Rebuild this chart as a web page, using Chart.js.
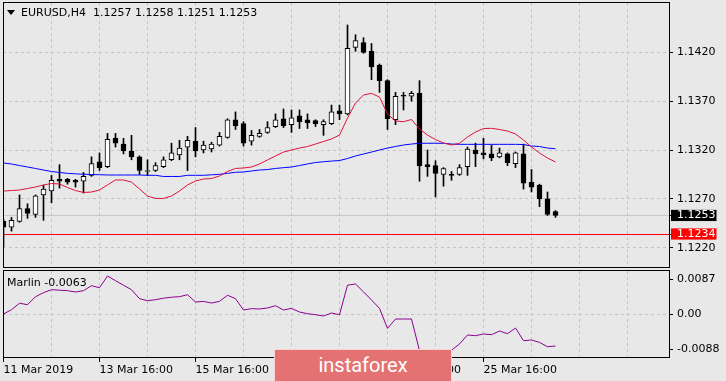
<!DOCTYPE html>
<html><head><meta charset="utf-8">
<script src="https://cdn.jsdelivr.net/npm/chart.js@4.4.1/dist/chart.umd.min.js"></script>
<style>
html,body{margin:0;padding:0;background:#e8e8e8;width:726px;height:381px;overflow:hidden;}
canvas{position:absolute;left:0;}
#c1{top:0;}
#c2{top:268px;}
.lbl{position:absolute;font:11px/13px 'DejaVu Sans';color:#000;white-space:pre;}
#tri{position:absolute;left:7px;top:10px;width:0;height:0;border-left:4px solid transparent;border-right:4px solid transparent;border-top:5px solid #000;}
#wm{position:absolute;left:274px;top:349px;width:176px;height:31px;border:1px solid rgba(255,235,235,0.8);background:#e47272;color:#fff;font:20px/30px Roboto,'DejaVu Sans';text-align:center;}
</style></head><body>
<canvas id="c1" width="726" height="270"></canvas>
<canvas id="c2" width="726" height="113"></canvas>
<div id="tri"></div>
<div class="lbl" id="title" style="left:21px;top:6px"></div>
<div class="lbl" id="ind" style="left:7px;top:276px"></div>
<div id="wm">instaforex</div>
<script>
// ---- data ----
const symbolTitle = 'EURUSD,H4';
const lastOHLC = ['1.1257', '1.1258', '1.1251', '1.1253'];
const indicatorName = 'Marlin';
const indicatorLast = '-0.0063';

const openP  = [1.1247,1.1241,1.1247,1.1260,1.1254,1.1274,1.1278,1.1290,1.1290,1.1289,
                1.1288,1.1294,1.1308,1.1303,1.1332,1.1326,1.1319,1.1313,1.1298,1.1299,
                1.1303,1.1310,1.1315,1.1323,1.1329,1.1320,1.1321,1.1325,1.1333,1.1351,
                1.1347,1.1329,1.1334,1.1338,1.1344,1.1352,1.1346,1.1355,1.1351,1.1350,
                1.1346,1.1347,1.1360,1.1357,1.1425,1.1430,1.1421,1.1407,1.1391,1.1351,
                1.1376,1.1375,1.1378,1.1305,1.1304,1.1295,1.1295,1.1295,1.1303,1.1320,
                1.1317,1.1316,1.1313,1.1316,1.1306,1.1316,1.1287,1.1284,1.1270,1.1257];
const highP  = [1.1249,1.1251,1.1274,1.1265,1.1274,1.1284,1.1294,1.1305,1.1291,1.1290,
                1.1297,1.1313,1.1317,1.1337,1.1337,1.1332,1.1335,1.1314,1.1310,1.1307,
                1.1313,1.1327,1.1330,1.1334,1.1343,1.1329,1.1328,1.1338,1.1352,1.1359,
                1.1349,1.1340,1.1341,1.1349,1.1357,1.1362,1.1361,1.1361,1.1357,1.1351,
                1.1351,1.1366,1.1366,1.1448,1.1438,1.1435,1.1429,1.1408,1.1392,1.1379,
                1.1379,1.1380,1.1391,1.1320,1.1309,1.1302,1.1298,1.1305,1.1323,1.1327,
                1.1332,1.1325,1.1322,1.1317,1.1318,1.1326,1.1300,1.1285,1.1277,1.1258];
const lowP   = [1.1221,1.1237,1.1246,1.1250,1.1251,1.1248,1.1266,1.1281,1.1285,1.1282,
                1.1276,1.1293,1.1299,1.1302,1.1323,1.1316,1.1310,1.1295,1.1294,1.1298,
                1.1302,1.1309,1.1310,1.1299,1.1313,1.1317,1.1318,1.1324,1.1332,1.1341,
                1.1324,1.1325,1.1333,1.1337,1.1343,1.1343,1.1338,1.1342,1.1342,1.1344,
                1.1335,1.1346,1.1351,1.1356,1.1421,1.1419,1.1392,1.1379,1.1341,1.1346,
                1.1361,1.1370,1.1288,1.1293,1.1272,1.1283,1.1289,1.1294,1.1294,1.1303,
                1.1311,1.1309,1.1312,1.1304,1.1302,1.1280,1.1277,1.1262,1.1253,1.1251];
const closeP = [1.1241,1.1248,1.1260,1.1255,1.1273,1.1280,1.1289,1.1288,1.1287,1.1287,
                1.1293,1.1306,1.1302,1.1331,1.1327,1.1319,1.1313,1.1299,1.1299,1.1304,
                1.1310,1.1317,1.1322,1.1330,1.1319,1.1325,1.1326,1.1334,1.1351,1.1345,
                1.1327,1.1335,1.1337,1.1343,1.1351,1.1345,1.1353,1.1349,1.1348,1.1347,
                1.1349,1.1359,1.1357,1.1424,1.1432,1.1420,1.1405,1.1391,1.1352,1.1375,
                1.1375,1.1378,1.1304,1.1303,1.1296,1.1301,1.1294,1.1302,1.1321,1.1316,
                1.1315,1.1312,1.1317,1.1307,1.1317,1.1286,1.1282,1.1270,1.1254,1.1253];
const maFast = [1.12780,1.12785,1.12791,1.12806,1.12821,1.12842,1.12857,1.12852,1.12816,1.12785,
                1.12765,1.12770,1.12791,1.12842,1.12893,1.12893,1.12872,1.12801,1.12729,1.12704,
                1.12704,1.12729,1.12780,1.12842,1.12883,1.12903,1.12908,1.12934,1.12980,1.13011,
                1.13016,1.13026,1.13057,1.13098,1.13139,1.13179,1.13200,1.13220,1.13236,1.13261,
                1.13287,1.13313,1.13353,1.13527,1.13681,1.13763,1.13780,1.13742,1.13568,1.13497,
                1.13490,1.13512,1.13415,1.13353,1.13307,1.13272,1.13251,1.13269,1.13333,1.13384,
                1.13420,1.13422,1.13410,1.13394,1.13364,1.13302,1.13231,1.13169,1.13118,1.13077];
const maSlow = [1.13067,1.13057,1.13041,1.13026,1.13011,1.12995,1.12980,1.12970,1.12961,1.12956,
                1.12952,1.12949,1.12947,1.12944,1.12944,1.12944,1.12944,1.12944,1.12941,1.12941,
                1.12929,1.12929,1.12929,1.12941,1.12941,1.12941,1.12946,1.12951,1.12961,1.12972,
                1.12975,1.12985,1.12995,1.13000,1.13011,1.13019,1.13026,1.13041,1.13057,1.13072,
                1.13080,1.13087,1.13092,1.13113,1.13139,1.13159,1.13179,1.13200,1.13220,1.13236,
                1.13251,1.13261,1.13269,1.13269,1.13269,1.13269,1.13261,1.13258,1.13258,1.13258,
                1.13258,1.13258,1.13258,1.13258,1.13258,1.13256,1.13241,1.13236,1.13220,1.13213];
const marlin = [0.00005,0.00092,0.00222,0.00192,0.00353,0.00434,0.00494,0.00484,0.00474,0.00448,
                0.00474,0.00574,0.00534,0.00769,0.00675,0.00584,0.00494,0.00313,0.00273,0.00293,
                0.00323,0.00343,0.00353,0.00393,0.00246,0.00259,0.00226,0.00259,0.00383,0.00313,
                0.00086,0.00112,0.00106,0.00126,0.00172,0.00086,0.00118,0.00045,0.00011,-0.00009,
                -0.00035,0.00025,-0.00009,0.00584,0.00609,0.00450,0.00287,0.00118,-0.00285,-0.00096,
                -0.00096,-0.00096,-0.00733,-0.00834,-0.00874,-0.00834,-0.00723,-0.00598,-0.00417,-0.00431,
                -0.00397,-0.00411,-0.00337,-0.00391,-0.00277,-0.00532,-0.00518,-0.00566,-0.00653,-0.00639];

const priceTicks = [1.1220, 1.1270, 1.1320, 1.1370, 1.1420];
const bidPrice = 1.1253;
const levelPrice = 1.1234;
const priceMin = 1.11992, priceMax = 1.14705;

const marlinMin = -0.0088, marlinMax = 0.0087;
const marlinTickValues = [0.0070, 0, -0.0070];
const marlinTickLabels = ['0.0087', '0.00', '-0.0088'];

const gridBars = [0,6,12,18,24,30,36,42,48,54,60,66,72,78];
const xLabelBars = [0,12,24,36,48,60];
const xTickLabels = ['11 Mar 2019','13 Mar 16:00','15 Mar 16:00','19 Mar 16:00','21 Mar 16:00','25 Mar 16:00'];
const xMin = -0.0625, xMax = 83.1875;

// ---- text ----
document.getElementById('title').textContent = symbolTitle + '  ' + lastOHLC.join(' ');
document.getElementById('ind').textContent = indicatorName + ' ' + indicatorLast;

// ---- charts ----
Chart.defaults.font.family = 'DejaVu Sans';
Chart.defaults.font.size = 11;
Chart.defaults.color = '#000';

const GRID = '#c4c4c4';
const frame = { id:'frame', afterDraw(chart){
  const {ctx, chartArea:a} = chart;
  ctx.save(); ctx.strokeStyle = '#000'; ctx.lineWidth = 1;
  ctx.strokeRect(a.left + 0.5, a.top - 0.5, a.right - a.left, a.bottom - a.top);
  ctx.restore();
}};
const noPad = s => { s.paddingTop = 0; s.paddingBottom = 0; s.paddingLeft = 0; s.paddingRight = 0; };

const idx = openP.map((_, i) => i);
const bodies = idx.map(i => ({x: i, y: [openP[i], closeP[i]]}));
const wicks = idx.map(i => ({x: i, y: [lowP[i], highP[i]]}));
const bodyFill = idx.map(i => closeP[i] >= openP[i] ? '#ffffff' : '#000000');
const isSpecial = v => v === bidPrice || v === levelPrice;

new Chart(document.getElementById('c1'), {
  type: 'bar',
  data: { datasets: [
    { type:'line', data: idx.map(i => ({x:i, y:maFast[i]})), borderColor:'#dc143c', borderWidth:1, pointRadius:0, tension:0, order:0 },
    { type:'line', data: idx.map(i => ({x:i, y:maSlow[i]})), borderColor:'#0000ff', borderWidth:1, pointRadius:0, tension:0, order:0 },
    { type:'bar', data: bodies, backgroundColor: bodyFill, borderColor:'#000', borderWidth:1, borderSkipped:false, barThickness:5, minBarLength:1, grouped:false, order:1 },
    { type:'bar', data: wicks, backgroundColor:'#000', borderWidth:0, barThickness:1, grouped:false, order:2 }
  ]},
  options: {
    responsive:false, animation:false, events:[],
    layout:{ padding:{ left:3, top:3, right:0, bottom:2 } },
    plugins:{ legend:{display:false}, tooltip:{enabled:false} },
    scales:{
      x:{ type:'linear', min:xMin, max:xMax, offset:false,
          grid:{ color:GRID, drawTicks:false, offset:false },
          border:{ display:false, dash:[3,3] },
          ticks:{ display:false },
          afterBuildTicks: s => { s.ticks = gridBars.map(v => ({value:v})); },
          afterFit: s => { s.height = 0; noPad(s); } },
      y:{ type:'linear', position:'right', min:priceMin, max:priceMax,
          afterBuildTicks: s => { s.ticks = priceTicks.concat([bidPrice, levelPrice]).sort((a,b)=>a-b).map(v => ({value:v})); },
          afterFit: s => { s.width = 57; noPad(s); },
          grid:{ color: c => c.tick && c.tick.value === bidPrice ? '#c8c8c8' : (c.tick && c.tick.value === levelPrice ? '#ff0000' : GRID),
                 tickColor:'#000', tickLength:4, tickBorderDash:[] },
          border:{ display:false, dash: c => (c.tick && isSpecial(c.tick.value)) ? [] : [3,3] },
          ticks:{ autoSkip:false, padding:4,
                  callback: v => Number(v).toFixed(4),
                  color: c => isSpecial(c.tick.value) ? '#ffffff' : '#000000',
                  showLabelBackdrop: c => isSpecial(c.tick.value),
                  backdropColor: c => c.tick.value === bidPrice ? '#000000' : '#ff0000',
                  backdropPadding:{ left:6, right:1, top:-1, bottom:-1 } } }
    }
  },
  plugins:[frame]
});

new Chart(document.getElementById('c2'), {
  type:'line',
  data:{ datasets:[ { data: idx.map(i => ({x:i, y:marlin[i]})), borderColor:'#8b008b', borderWidth:1, pointRadius:0, tension:0 } ] },
  options:{
    responsive:false, animation:false, events:[],
    layout:{ padding:{ left:3, top:3, right:0, bottom:0 } },
    plugins:{ legend:{display:false}, tooltip:{enabled:false} },
    scales:{
      x:{ type:'linear', min:xMin, max:xMax, offset:false,
          grid:{ color:GRID, offset:false, tickLength:4, tickBorderDash:[],
                 tickColor: c => (c.tick && xLabelBars.includes(c.tick.value)) ? '#000' : 'rgba(0,0,0,0)' },
          border:{ display:false, dash:[3,3] },
          afterBuildTicks: s => { s.ticks = gridBars.map(v => ({value:v})); },
          afterFit: s => { s.height = 23; noPad(s); },
          ticks:{ autoSkip:false, maxRotation:0, minRotation:0, align:'start', padding:2,
                  callback: v => { const k = xLabelBars.indexOf(v); return k >= 0 ? xTickLabels[k] : ''; } } },
      y:{ type:'linear', position:'right', min:marlinMin, max:marlinMax,
          afterBuildTicks: s => { s.ticks = marlinTickValues.map(v => ({value:v})); },
          afterFit: s => { s.width = 57; noPad(s); },
          grid:{ color: c => (c.tick && c.tick.value === 0) ? GRID : 'rgba(0,0,0,0)', tickColor:'#000', tickLength:4, tickBorderDash:[] },
          border:{ display:false, dash:[3,3] },
          ticks:{ autoSkip:false, padding:4, callback: (v, i) => marlinTickLabels[i] } }
    }
  },
  plugins:[frame]
});
</script>
</body></html>
